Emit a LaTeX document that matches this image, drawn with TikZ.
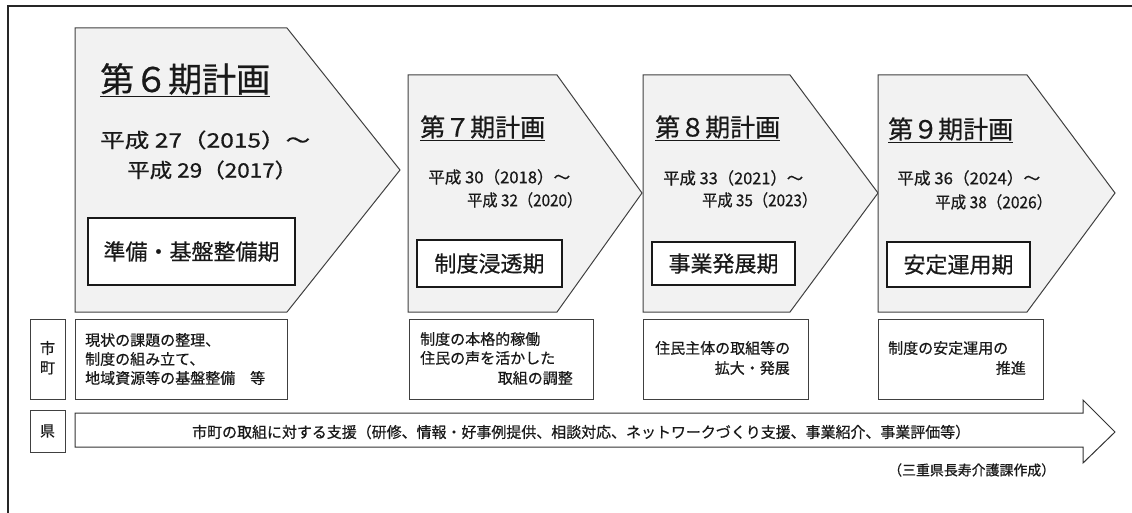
\documentclass[tikz,border=0pt]{standalone}
\usepackage{fontspec}
\setmainfont{Noto Sans CJK JP}[FakeBold=0.6]
\newcommand\jfsize[1]{\fontsize{#1}{#1}\selectfont}
\newcommand\jfit[3]{\resizebox{#1pt}{#2pt}{#3}}
\begin{document}
\begin{tikzpicture}[x=1pt,y=-1pt,
  phase/.style={draw=black!75, line width=1pt, fill=black!5, line join=miter},
  stagebox/.style={draw=black!90, line width=1.8pt, fill=white, inner sep=0pt},
  notebox/.style={draw=black!75, line width=0.8pt, inner sep=0pt},
  txt/.style={inner sep=0pt, text=black!90},
  title/.style={txt, font=\jfsize{25}},
  stagetxt/.style={txt, font=\jfsize{22}},
  notetxt/.style={txt, font=\jfsize{15}}
]
\useasboundingbox (0,0) rectangle (1132,513);
% outer frame
\draw[line width=1.5pt, black!85] (8,513) -- (8,6) -- (1132,6);

% phase arrows
\draw[phase] (75,28) -- (287,28) -- (400,170) -- (287,312) -- (75,312) -- cycle;
\draw[phase] (408,75) -- (557,75) -- (642,193) -- (557,312) -- (408,312) -- cycle;
\draw[phase] (643,75) -- (790,75) -- (878,193) -- (790,312) -- (643,312) -- cycle;
\draw[phase] (878,75) -- (1027,75) -- (1115,193) -- (1027,312) -- (878,312) -- cycle;

% phase 6
\node[txt, font=\jfsize{34}, anchor=west] (t6) at (100,80) {\underline{第６期計画}};
\node[txt, anchor=west] (d6a) at (100,140) {\jfit{210}{17}{平成 27（2015）～}};
\node[txt, anchor=west] (d6b) at (127,170) {\jfit{170}{17}{平成 29（2017）}};
\node[stagebox, minimum width=207pt, minimum height=67pt] (s6) at (191.5,251.5) {};
\node[stagetxt] (s6t) at (s6) {準備・基盤整備期};

% phase 7
\node[title, anchor=west] (t7) at (420,128) {\underline{第７期計画}};
\node[txt, anchor=west] (d7a) at (428,177) {\jfit{142}{14}{平成 30（2018）～}};
\node[txt, anchor=west] (d7b) at (467,200) {\jfit{115}{14}{平成 32（2020）}};
\node[stagebox, minimum width=145pt, minimum height=47pt] (s7) at (489.5,263.5) {};
\node[stagetxt] (s7t) at (s7) {制度浸透期};

% phase 8
\node[title, anchor=west] (t8) at (655,128) {\underline{第８期計画}};
\node[txt, anchor=west] (d8a) at (663,178) {\jfit{140}{14}{平成 33（2021）～}};
\node[txt, anchor=west] (d8b) at (702,200) {\jfit{115}{14}{平成 35（2023）}};
\node[stagebox, minimum width=143pt, minimum height=43pt] (s8) at (723.5,263.5) {};
\node[stagetxt] (s8t) at (s8) {事業発展期};

% phase 9
\node[title, anchor=west] (t9) at (888,130) {\underline{第９期計画}};
\node[txt, anchor=west] (d9a) at (897,178) {\jfit{143}{14}{平成 36（2024）～}};
\node[txt, anchor=west] (d9b) at (935,202) {\jfit{117}{14}{平成 38（2026）}};
\node[stagebox, minimum width=143pt, minimum height=45pt] (s9) at (958.5,264.5) {};
\node[stagetxt] (s9t) at (s9) {安定運用期};

% municipal row
\node[notebox, minimum width=35pt, minimum height=80pt] (lm) at (47.5,359) {};
\node[notetxt] (lm1) at (47.5,348) {市};
\node[notetxt] (lm2) at (47.5,368) {町};

\node[notebox, minimum width=212pt, minimum height=80pt] (n6) at (181,359) {};
\node[notetxt, anchor=west] (n6a) at (85,340) {現状の課題の整理、};
\node[notetxt, anchor=west] (n6b) at (85,359) {制度の組み立て、};
\node[notetxt, anchor=west] (n6c) at (85,378) {地域資源等の基盤整備　等};

\node[notebox, minimum width=184pt, minimum height=80pt] (n7) at (501,359) {};
\node[notetxt, anchor=west] (n7a) at (420,339) {制度の本格的稼働};
\node[notetxt, anchor=west] (n7b) at (420,358) {住民の声を活かした};
\node[notetxt, anchor=east] (n7c) at (573,378) {取組の調整};

\node[notebox, minimum width=165pt, minimum height=80pt] (n8) at (725.5,359) {};
\node[notetxt, anchor=west] (n8a) at (655,348) {住民主体の取組等の};
\node[notetxt, anchor=east] (n8b) at (790,368) {拡大・発展};

\node[notebox, minimum width=165pt, minimum height=80pt] (n9) at (960.5,359) {};
\node[notetxt, anchor=west] (n9a) at (888,348) {制度の安定運用の};
\node[notetxt, anchor=east] (n9b) at (1026,368) {推進};

% prefecture row
\node[notebox, minimum width=35pt, minimum height=42pt] (lp) at (47.5,431) {};
\node[notetxt] (lpt) at (lp) {県};
\draw[line width=1pt, black!80, fill=white] (75,413) -- (1083,413) -- (1083,400) -- (1115,432) -- (1083,463) -- (1083,447) -- (75,447) -- cycle;
\node[txt, anchor=west] (sup) at (192,432) {\jfit{778}{13}{市町の取組に対する支援（研修、情報・好事例提供、相談対応、ネットワークづくり支援、事業紹介、事業評価等）}};

\node[txt, anchor=west] (src) at (888,470) {\jfit{167}{12}{（三重県長寿介護課作成）}};
\end{tikzpicture}
\end{document}
